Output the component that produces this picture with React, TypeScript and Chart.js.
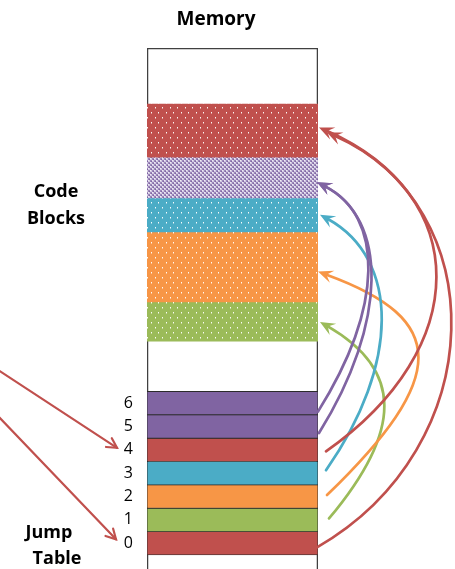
import { useEffect, useRef } from "react";
import { Chart, registerables } from "chart.js";

Chart.register(...registerables);

// ---------- data ----------
const columnLabel = "Memory";
const memoryRange = [-0.6, 21.7];

const blockNames = ["Block A", "Block B", "Block C", "Block D", "Block E"];
const blockStarts = [17.0, 15.25, 13.8, 10.8, 9.15];
const blockEnds = [19.3, 17.0, 15.25, 13.8, 10.8];
const blockColors = ["#C0504D", "#8064A2", "#4BACC6", "#F79646", "#9BBB59"];
const blockPatterns = ["dots", "checker", "dots", "dots", "dots"];

const tableLabels = ["0", "1", "2", "3", "4", "5", "6"];
const tableStarts = [0, 1, 2, 3, 4, 5, 6];
const tableSlotSize = 1;
const tableTargets = [0, 4, 3, 2, 0, 1, 1]; // index into blocks
const incomingEntries = [4, 0];

const codeBlocksText = ["Code", "Blocks"];
const jumpTableText = ["Jump", "Table"];

// ---------- styles ----------
// sx/sy: start offset, tx/ty: tip offset, bulge: control x from right edge,
// a1: leaving angle (deg), a2: arriving angle (deg)
const arrowStyles = [
  { sx: -1, sy: 4, tx: 9, ty: 1.5, bulge: 175, a1: 30, a2: 24 },
  { sx: 11, sy: -1.5, tx: 2, ty: 0, bulge: 85, a1: 50, a2: 30 },
  { sx: 9, sy: -1.5, tx: 0, ty: 4, bulge: 131, a1: 44, a2: 20 },
  { sx: 8, sy: -3, tx: 2, ty: -1, bulge: 82, a1: 55, a2: 29 },
  { sx: 8, sy: 1.5, tx: 1, ty: -3.5, bulge: 155, a1: 35, a2: 24 },
  { sx: 1, sy: 6.5, tx: -1, ty: 4, bulge: 70, a1: 58, a2: 27 },
  { sx: 0, sy: 8.5, tx: -1, ty: 4, bulge: 66, a1: 58, a2: 27 },
];
const incomingStyles = [
  { x0: -2, y0: 370, tx: -30, ty: -2 },
  { x0: -2, y0: 416, tx: -31, ty: -4 },
];

const FONT = "'Open Sans', 'Liberation Sans', sans-serif";

function makePattern(color: string, kind: string): CanvasPattern | string {
  const c = document.createElement("canvas");
  const g = c.getContext("2d");
  if (!g) return color;
  if (kind === "checker") {
    c.width = 4;
    c.height = 4;
    g.fillStyle = "#9a86b8";
    g.fillRect(0, 0, 4, 4);
    g.fillStyle = "#d2c9e2";
    g.fillRect(0, 0, 2, 2);
    g.fillRect(2, 2, 2, 2);
    g.fillStyle = "#f0ecf6";
    g.fillRect(0, 0, 1, 1);
    g.fillRect(2, 2, 1, 1);
    g.fillStyle = color;
    g.fillRect(3, 1, 1, 1);
    g.fillRect(1, 3, 1, 1);
  } else {
    c.width = 15;
    c.height = 10;
    g.fillStyle = color;
    g.fillRect(0, 0, 15, 10);
    const dots = [
      [1, 2],
      [8, 2],
      [5, 7],
      [12, 7],
    ];
    dots.forEach(([x, y]) => {
      g.fillStyle = "rgba(255,255,255,0.95)";
      g.fillRect(x, y, 1, 1);
      g.fillStyle = "rgba(255,255,255,0.45)";
      g.fillRect(x, y + 1, 1, 1);
    });
  }
  const p = g.createPattern(c, "repeat");
  return p || color;
}

type Pt = { x: number; y: number };

function drawCurvedArrow(ctx: CanvasRenderingContext2D, S: Pt, P1: Pt, P2: Pt, T: Pt, color: string) {
  const ang = Math.atan2(T.y - P2.y, T.x - P2.x);
  const headLen = 15;
  const halfW = 6.5;
  const notch = headLen * 0.6;
  const cos = Math.cos(ang);
  const sin = Math.sin(ang);
  const E = { x: T.x - cos * notch, y: T.y - sin * notch };
  ctx.save();
  ctx.strokeStyle = color;
  ctx.lineWidth = 2.7;
  ctx.lineCap = "round";
  ctx.beginPath();
  ctx.moveTo(S.x, S.y);
  ctx.bezierCurveTo(P1.x, P1.y, P2.x, P2.y, E.x, E.y);
  ctx.stroke();
  ctx.fillStyle = color;
  const bx = T.x - cos * headLen;
  const by = T.y - sin * headLen;
  ctx.beginPath();
  ctx.moveTo(T.x, T.y);
  ctx.lineTo(bx - sin * halfW, by + cos * halfW);
  ctx.lineTo(E.x, E.y);
  ctx.lineTo(bx + sin * halfW, by - cos * halfW);
  ctx.closePath();
  ctx.fill();
  ctx.restore();
}

function drawStraightArrow(ctx: CanvasRenderingContext2D, S: Pt, T: Pt, color: string) {
  const ang = Math.atan2(T.y - S.y, T.x - S.x);
  const len = 11;
  ctx.save();
  ctx.strokeStyle = color;
  ctx.lineWidth = 2.2;
  ctx.lineCap = "round";
  ctx.beginPath();
  ctx.moveTo(S.x, S.y);
  ctx.lineTo(T.x, T.y);
  ctx.stroke();
  ctx.beginPath();
  ctx.moveTo(T.x - len * Math.cos(ang - 0.5), T.y - len * Math.sin(ang - 0.5));
  ctx.lineTo(T.x, T.y);
  ctx.lineTo(T.x - len * Math.cos(ang + 0.5), T.y - len * Math.sin(ang + 0.5));
  ctx.stroke();
  ctx.restore();
}

const deg = Math.PI / 180;

const annotationPlugin = {
  id: "diagramAnnotations",
  afterDraw(chart: any) {
    const ctx: CanvasRenderingContext2D = chart.ctx;
    const y = chart.scales.y;
    const area = chart.chartArea;

    tableStarts.forEach((s, i) => {
      const st = arrowStyles[i];
      const b = tableTargets[i];
      const sy = y.getPixelForValue(s + tableSlotSize / 2);
      const ty = y.getPixelForValue((blockStarts[b] + blockEnds[b]) / 2);
      const S = { x: area.right + st.sx, y: sy + st.sy };
      const T = { x: area.right + st.tx, y: ty + st.ty };
      const X = area.right + st.bulge;
      const P1 = { x: X, y: S.y - (X - S.x) * Math.tan(st.a1 * deg) };
      const P2 = { x: X, y: T.y + (X - T.x) * Math.tan(st.a2 * deg) };
      drawCurvedArrow(ctx, S, P1, P2, T, blockColors[b]);
    });

    incomingEntries.forEach((e, k) => {
      const st = incomingStyles[k];
      const ty = y.getPixelForValue(tableStarts[e] + tableSlotSize / 2);
      drawStraightArrow(
        ctx,
        { x: st.x0, y: st.y0 },
        { x: area.left + st.tx, y: ty + st.ty },
        blockColors[tableTargets[e]]
      );
    });

    ctx.save();
    ctx.fillStyle = "#000";
    ctx.textAlign = "center";
    ctx.textBaseline = "middle";
    ctx.font = `bold 19px ${FONT}`;
    ctx.fillText(columnLabel, 216, 20);
    ctx.font = `bold 18px ${FONT}`;
    ctx.fillText(codeBlocksText[0], 56, 192);
    ctx.fillText(codeBlocksText[1], 56, 219);
    ctx.fillText(jumpTableText[0], 49, 533);
    ctx.fillText(jumpTableText[1], 57, 559);
    ctx.restore();
  },
};

export default function App() {
  const ref = useRef<HTMLCanvasElement | null>(null);

  useEffect(() => {
    if (!ref.current) return;
    const blockData = blockStarts.map((s, i) => ({ x: columnLabel, y: [s, blockEnds[i]] }));
    const tableData = tableStarts.map((s) => ({ x: columnLabel, y: [s, s + tableSlotSize] }));

    const chart = new Chart(ref.current, {
      type: "bar",
      data: {
        labels: [columnLabel],
        datasets: [
          {
            label: "Jump Table",
            data: tableData as any,
            backgroundColor: tableTargets.map((b) => blockColors[b]),
            borderColor: "#2b2b2b",
            borderWidth: 0.8,
            borderSkipped: false,
            grouped: false,
            order: 1,
          } as any,
          {
            label: "Code Blocks",
            data: blockData as any,
            backgroundColor: blockColors.map((c, i) => makePattern(c, blockPatterns[i])),
            borderWidth: 0,
            grouped: false,
            order: 2,
          } as any,
          {
            label: columnLabel,
            data: [{ x: columnLabel, y: memoryRange }] as any,
            backgroundColor: "#ffffff",
            borderColor: "#404040",
            borderWidth: 1.6,
            borderSkipped: "bottom",
            grouped: false,
            order: 3,
          } as any,
        ],
      },
      options: {
        animation: false,
        responsive: true,
        maintainAspectRatio: false,
        layout: { padding: { left: 0, right: 137, top: 48, bottom: 0 } },
        datasets: { bar: { barPercentage: 1, categoryPercentage: 1 } } as any,
        plugins: {
          legend: { display: false },
          tooltip: { enabled: false },
          title: { display: false },
        },
        scales: {
          x: { display: false, offset: true },
          y: {
            type: "linear",
            min: memoryRange[0],
            max: memoryRange[1],
            afterBuildTicks: (scale: any) => {
              scale.ticks = tableStarts.map((s) => ({ value: s + tableSlotSize / 2 }));
            },
            afterFit: (scale: any) => {
              scale.width = 147;
              scale.paddingTop = 0;
              scale.paddingBottom = 0;
            },
            grid: { display: false, drawTicks: false },
            border: { display: false },
            ticks: {
              autoSkip: false,
              padding: 14,
              color: "#000",
              font: { family: FONT, size: 16 },
              callback: (v: any) => {
                const i = tableStarts.findIndex((s) => Math.abs(s + tableSlotSize / 2 - Number(v)) < 1e-6);
                return i >= 0 ? tableLabels[i] : "";
              },
            },
          },
        },
      },
      plugins: [annotationPlugin],
    });
    return () => chart.destroy();
  }, []);

  return (
    <div style={{ position: "fixed", left: 0, top: 0, width: 455, height: 569, background: "#fff" }}>
      <canvas ref={ref} />
    </div>
  );
}
